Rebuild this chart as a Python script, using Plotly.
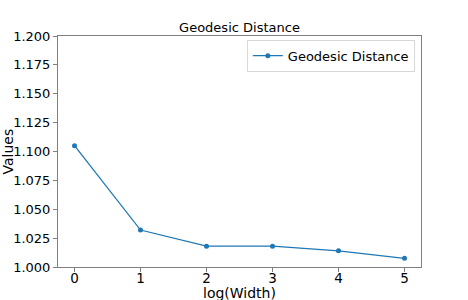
import plotly.graph_objects as go

x_vals = [0, 1, 2, 3, 4, 5]
geodesic = [1.105, 1.032, 1.018, 1.018, 1.014, 1.0075]
y_ticks = [1.000, 1.025, 1.050, 1.075, 1.100, 1.125, 1.150, 1.175, 1.200]
y_tick_text = ["%.3f" % v for v in y_ticks]

fig = go.Figure()
fig.add_trace(go.Scatter(
    x=x_vals, y=geodesic, mode="lines+markers", name="Geodesic Distance",
    line=dict(color="#1f77b4", width=1.3),
    marker=dict(color="#1f77b4", size=5),
))

font = "DejaVu Sans, sans-serif"
fig.update_layout(
    width=468, height=300,
    margin=dict(l=58, r=47, t=36, b=33, autoexpand=False),
    paper_bgcolor="white", plot_bgcolor="white",
    font=dict(family=font, color="black"),
    title=dict(text="Geodesic Distance", x=0.5, xref="paper", xanchor="center",
               y=1, yref="paper", yanchor="bottom", pad=dict(b=4),
               font=dict(size=13, family=font, color="black"), automargin=False),
    showlegend=True,
    legend=dict(x=0.983, y=0.984, xanchor="right", yanchor="top",
                bgcolor="white", bordercolor="#d8d8d8", borderwidth=1,
                font=dict(size=13, family=font), tracegroupgap=0),
    xaxis=dict(range=[-0.25, 5.25], tickvals=x_vals, showgrid=False, zeroline=False,
               showline=True, linecolor="#808080", linewidth=1, mirror=True,
               ticks="outside", ticklen=4, tickcolor="#808080", ticklabelstandoff=-5,
               tickfont=dict(size=13.5, family=font), automargin=False),
    yaxis=dict(range=[1.0, 1.2], tickvals=y_ticks, ticktext=y_tick_text, showgrid=False,
               zeroline=False, showline=True, linecolor="#808080", linewidth=1, mirror=True,
               ticks="outside", ticklen=4, tickcolor="#808080",
               tickfont=dict(size=13, family=font), automargin=False),
    annotations=[
        dict(text="log(Width)", xref="paper", yref="paper", x=0.5, y=0, yshift=-26,
             xanchor="center", yanchor="middle", showarrow=False,
             font=dict(size=14, family=font, color="black")),
        dict(text="Values", xref="paper", yref="paper", x=0, y=0.5, xshift=-51,
             xanchor="center", yanchor="middle", textangle=-90, showarrow=False,
             font=dict(size=14, family=font, color="black")),
    ],
)
fig.write_html("out.html", config={"displayModeBar": False},
               post_script="document.body.style.margin='0';")
